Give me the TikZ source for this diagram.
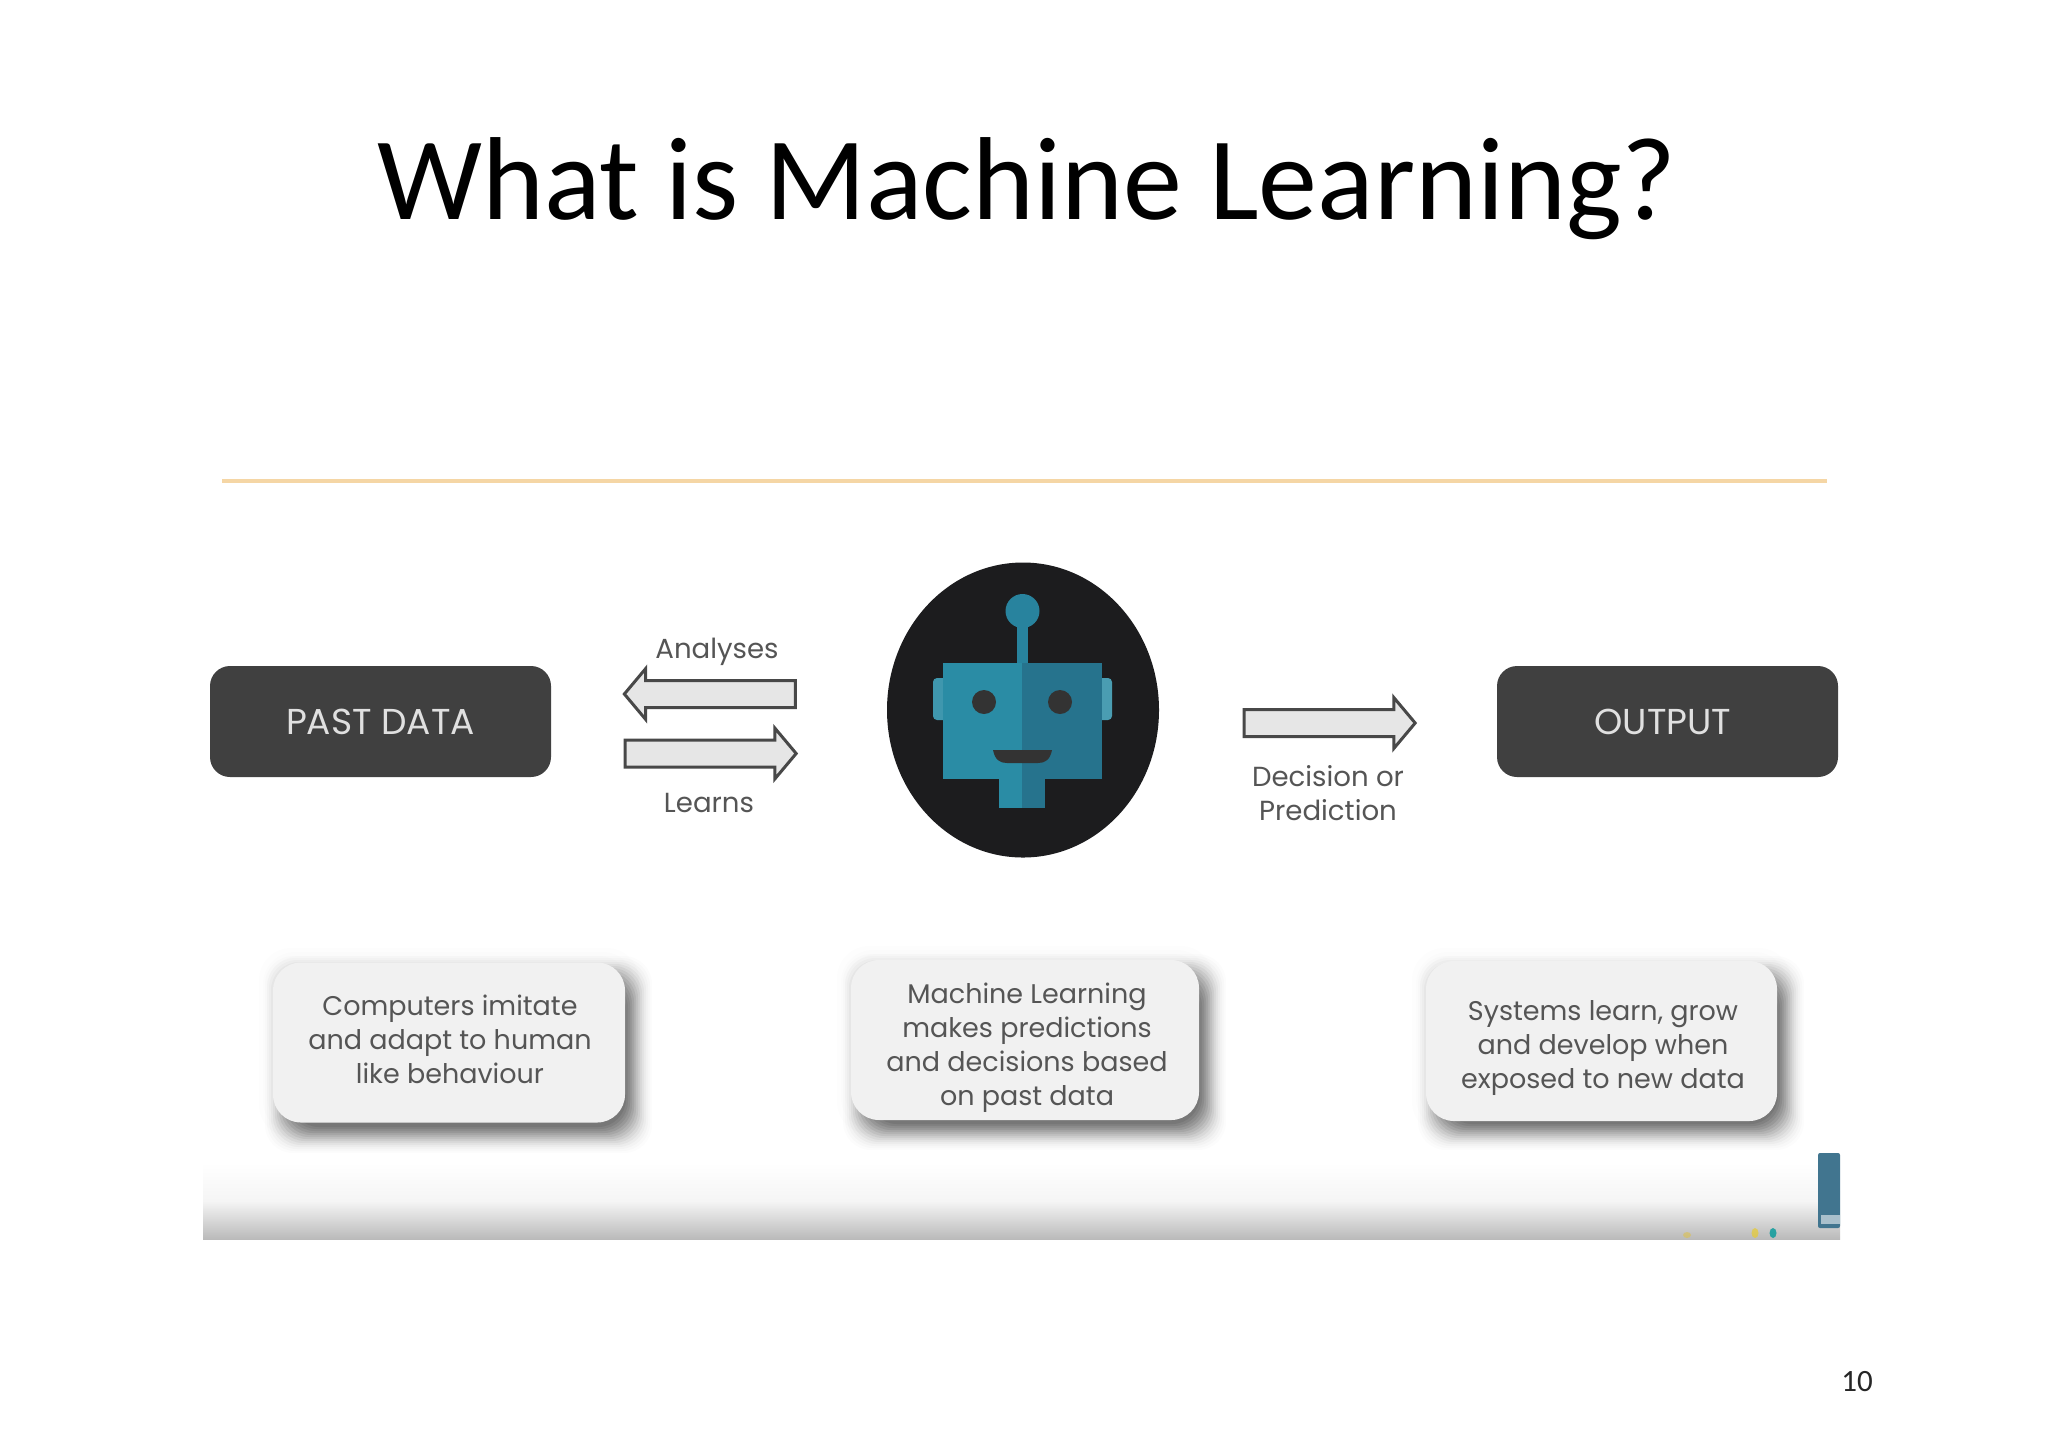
\documentclass[tikz,border=0pt]{standalone}
\usepackage{fontspec}
\setmainfont{Carlito}
\newfontfamily\cardfont{Poppins}
\usetikzlibrary{shapes.arrows,shapes.geometric}
\definecolor{boxdark}{HTML}{404040}
\definecolor{inklabel}{HTML}{555555}
\definecolor{cardfill}{HTML}{F1F1F1}
\definecolor{arrowfill}{HTML}{E6E6E6}
\definecolor{arrowline}{HTML}{484848}
\definecolor{robotbg}{HTML}{1C1C1E}
\definecolor{tealA}{HTML}{2A8CA5}
\definecolor{tealB}{HTML}{26738D}
\definecolor{tealS}{HTML}{28839E}
\definecolor{tealC}{HTML}{41758F}
\definecolor{rulecolor}{HTML}{F5D6A5}
\newcommand{\softshadow}[4]{%
  \foreach \g in {14,10,6}{%
    \fill[black,opacity=0.008,rounded corners=16pt]
      ({#1-\g},{#2-\g}) rectangle ({#3+\g},{#4+\g});
  }%
  \foreach \g/\o in {18/0.012,16/0.016,14/0.02,12/0.028,10/0.036,8/0.044,6/0.052,4/0.06,2/0.066,0/0.07,-2/0.07,-4/0.07,-6/0.07,-8/0.07}{%
    \fill[black,opacity=\o,rounded corners=14pt]
      ({#1+10-\g},{#2+12-\g}) rectangle ({#3+9+\g},{#4+12+\g});
  }%
}
\tikzset{
  darkbox/.style={draw=none,fill=boxdark,rounded corners=10pt,minimum width=170.5pt,minimum height=55.5pt,
    text=white!88!black,font=\cardfont\fontsize{18}{20}\selectfont,inner sep=0pt},
  card/.style={fill=cardfill,rounded corners=14pt,minimum width=#1,minimum height=80pt,inner sep=0pt},
  cardtext/.style={text=inklabel,align=center,font=\cardfont\fontsize{13.5}{17}\selectfont,inner sep=0pt},
  arrowlabel/.style={text=inklabel,align=center,font=\cardfont\fontsize{13.8}{17}\selectfont,inner sep=0pt},
  blockarrow/.style={single arrow,draw=arrowline,fill=arrowfill,line width=1.5pt,inner xsep=0pt,inner ysep=6pt,
    single arrow head extend=6pt,single arrow tip angle=100,minimum height=#1},
}
\begin{document}
\begin{tikzpicture}[x=0.5pt,y=-0.5pt]
\useasboundingbox (0,0) rectangle (2048,1448);
\fill[white] (0,0) rectangle (2048,1448);
% title and page number
\node[anchor=base,inner sep=0pt,font=\fontsize{59}{65}\selectfont] (title) at (1027,219) {What is Machine Learning?};
\node[inner sep=0pt,font=\fontsize{15.5}{18}\selectfont,text=black!85] (pagenum) at (1857,1382) {10};
% rule
\fill[rulecolor] (222,479) rectangle (1827,483);
% bottom band
\shade[top color=white,bottom color=black!27,middle color=black!4] (203,1163) rectangle (1840,1239);
\fill[tealC,rounded corners=1pt] (1818,1153) rectangle (1840,1228);
\fill[white,opacity=0.55] (1821,1215) rectangle (1840,1224);
\fill[yellow!60!brown,opacity=0.7] (1755,1233) ellipse (3.5 and 5);
\fill[teal!80!cyan,opacity=0.8] (1773,1233) ellipse (3.5 and 5);
\fill[yellow!50!brown,opacity=0.5] (1687,1235) ellipse (4 and 3);
% dark boxes
\node[darkbox] (past) at (380.5,721.5) {PAST DATA};
\node[darkbox] (output) at (1667.5,721.5) {};
\node[text=white!88!black,font=\cardfont\fontsize{18}{20}\selectfont,inner sep=0pt] (outputlabel) at (1663,722) {OUTPUT};
% arrows
\node[blockarrow=85.5pt,shape border rotate=180] (analyse) at (715.5,694) {};
\node[blockarrow=85.5pt] (learn) at (705,753.5) {};
\node[blockarrow=85.5pt] (decide) at (1324,723) {};
\node[arrowlabel] (analyseslabel) at (717,652) {Analyses};
\node[arrowlabel] (learnslabel) at (709,803) {Learns};
\node[arrowlabel] (decidelabel) at (1328,793) {Decision or\\Prediction};
% robot
\node[ellipse,fill=robotbg,minimum width=136pt,minimum height=147.5pt,inner sep=0pt] (robot) at (1023,710) {};
\fill[tealA!90!white,rounded corners=2pt] (933,678) rectangle (948,720);
\fill[tealA!85!white,rounded corners=2pt] (1097,678) rectangle (1112,720);
\fill[tealA] (943,663) rectangle (1022,779);
\fill[tealB] (1022,663) rectangle (1102,779);
\fill[tealA] (999,779) rectangle (1022,808);
\fill[tealB] (1022,779) rectangle (1045,808);
\fill[tealS] (1017,625) rectangle (1028,663);
\fill[tealS] (1022.5,611) circle (17);
\fill[black!80] (984,702) circle (12);
\fill[black!80] (1060,702) circle (12);
\fill[black!80] (993,750) -- (1052,750) .. controls (1050,760) and (1045,763) .. (1038,763) -- (1007,763) .. controls (1000,763) and (995,760) .. (993,750) -- cycle;
% cards
\softshadow{273}{962}{625}{1123}
\softshadow{851}{960}{1199}{1120}
\softshadow{1426}{962}{1777}{1120}
\node[card=176pt] (cardA) at (449,1042.5) {};
\node[card=174pt] (cardB) at (1025,1040) {};
\node[card=175.5pt] (cardC) at (1601.5,1041) {};
\node[cardtext] (cardAtext) at (450,1039.5) {Computers imitate\\and adapt to human\\like behaviour};
\node[cardtext] (cardBtext) at (1027,1047.5) {Machine Learning\\makes predictions\\and decisions based\\on past data};
\node[cardtext] (cardCtext) at (1603,1048) {Systems learn, grow\\and develop when\\exposed to new data};
\end{tikzpicture}
\end{document}
